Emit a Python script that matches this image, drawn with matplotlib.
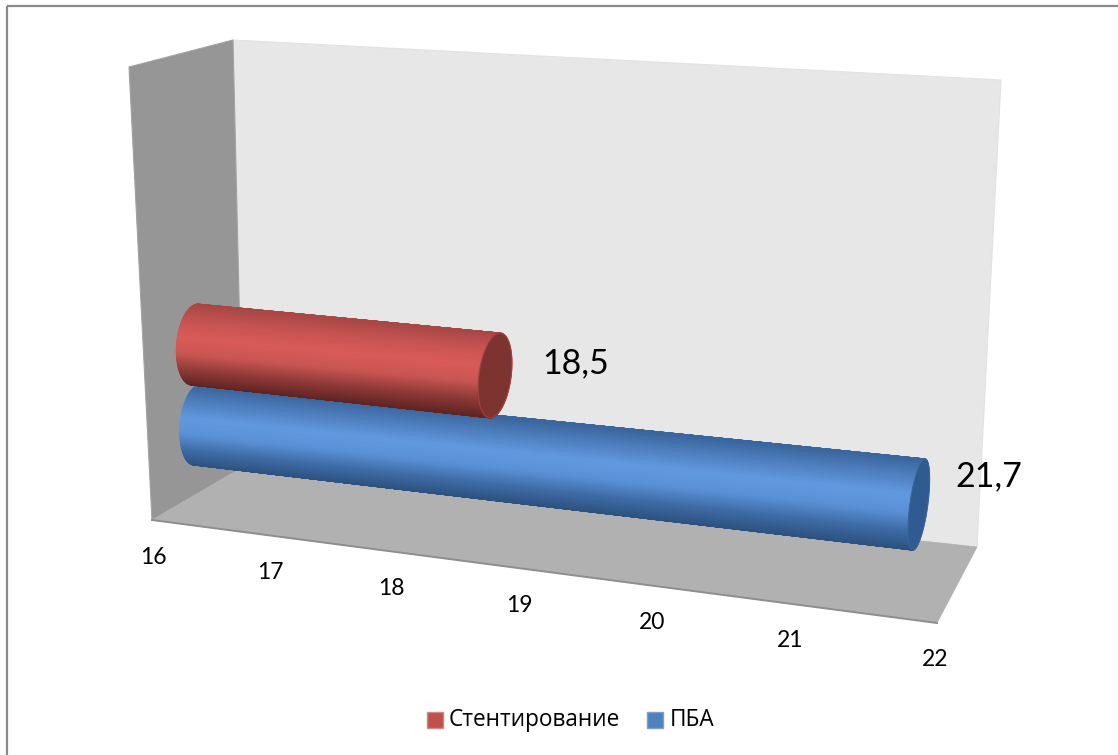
import numpy as np
import matplotlib
matplotlib.use("Agg")
import matplotlib.pyplot as plt
from matplotlib.collections import PolyCollection
from matplotlib.colors import LinearSegmentedColormap
from matplotlib.patches import Polygon, Rectangle

# Chart data
series_names = ["Стентирование", "ПБА"]
series_values = [18.5, 21.7]
value_labels = ["18,5", "21,7"]
axis_ticks = [16, 17, 18, 19, 20, 21, 22]

W, H = 1118, 755
AXIS_MIN, AXIS_MAX = axis_ticks[0], axis_ticks[-1]
FORESHORTENING = 1.137


def depth(value):
    """Perspective position (0..1) of a value along the receding value axis."""
    t = (np.asarray(value, dtype=float) - AXIS_MIN) / (AXIS_MAX - AXIS_MIN)
    return t / (t + FORESHORTENING * (1 - t))


def lerp(a, b, s):
    return np.asarray(a, dtype=float) + (np.asarray(b, dtype=float) - np.asarray(a, dtype=float)) * s


fig = plt.figure(figsize=(W / 100, H / 100), dpi=100, facecolor="white")
ax = fig.add_axes([0, 0, 1, 1])
ax.set_xlim(0, W)
ax.set_ylim(H, 0)
ax.axis("off")

# Chart frame: only the top and left sides fall inside the canvas
ax.plot([6.5, W], [6, 6], color="#8a8a8a", lw=1.6, zorder=0, solid_capstyle="butt")
ax.plot([6.5, 6.5], [6, H], color="#8a8a8a", lw=1.6, zorder=0, solid_capstyle="butt")

# Box walls and floor
ax.add_patch(Polygon([(233, 40), (1001, 80), (977, 547), (243, 467)], fc="#e7e7e7", ec="#e2e2e2", lw=0.8, zorder=1))
ax.add_patch(Polygon([(129, 67), (233, 40), (243, 467), (152, 520)], fc="#969696", ec="#a2a2a2", lw=0.8, zorder=1))
ax.add_patch(Polygon([(152, 520), (243, 467), (977, 547), (937, 623)], fc="#b1b1b1", ec="#b1b1b1", lw=0.5, zorder=1))
ax.plot([152, 937], [520, 623], color="#8e8e8e", lw=1.4, zorder=2)

# Tube styling: centre line, half-axis of the end ellipse and shading per series
tube_geometry = [
    dict(c0=(195, 344.5), c1=(972.6, 424.9), major0=(3, -40.5), major1=(8, -45.7), minor0=18.5, minor1=12.5,
         stops=["#5e2422", "#8f3b39", "#c95653", "#d95b59", "#c75452", "#a84745"],
         cap="#7d3431", edge="#a5403d", z=6),
    dict(c0=(197, 425), c1=(962, 509.3), major0=(3, -40), major1=(6.2, -46), minor0=17, minor1=8.5,
         stops=["#2c517f", "#3f6ca6", "#5a91d6", "#6199e0", "#4f80bf", "#3a659e"],
         cap="#305b90", edge="#38659c", z=4),
]


def draw_tube(value, g):
    s = depth(value)
    c_start, c_end = np.array(g["c0"], float), lerp(g["c0"], g["c1"], s)
    m_start, m_end = np.array(g["major0"], float), lerp(g["major0"], g["major1"], s)
    r_start, r_end = g["minor0"], lerp(g["minor0"], g["minor1"], s)

    cmap = LinearSegmentedColormap.from_list("tube", g["stops"])
    # Shade the curved surface as thin strips between the two end ellipses
    vs = np.sin(np.linspace(-np.pi / 2, np.pi / 2, 161))
    strips, shades = [], []
    for v0, v1 in zip(vs[:-1], vs[1:]):
        quad = []
        for v in (v0, v1):
            quad.append(c_start + v * m_start + (-r_start * np.sqrt(max(0.0, 1 - v * v)), 0))
        for v in (v1, v0):
            quad.append(c_end + v * m_end + (r_end * np.sqrt(max(0.0, 1 - v * v)), 0))
        strips.append(quad)
        shades.append(cmap((0.5 * (v0 + v1) + 1) / 2))
    ax.add_collection(PolyCollection(strips, facecolors=shades, edgecolors=shades, linewidths=0.6, zorder=g["z"]))

    # Flat end cap
    th = np.linspace(0, 2 * np.pi, 120)
    cap = c_end + np.outer(np.sin(th), m_end) + np.outer(np.cos(th), (r_end, 0))
    ax.add_patch(Polygon(cap, fc=g["cap"], ec=g["edge"], lw=0.8, zorder=g["z"] + 0.5))


for value, geom in zip(series_values, tube_geometry):
    draw_tube(value, geom)

# Value labels beside the tube ends
label_font = ["Lato", "Open Sans"]
for (value, text, g, dx, dy) in zip(series_values, value_labels, tube_geometry, (81, 70), (-12, -28)):
    s = depth(value)
    c = lerp(g["c0"], g["c1"], s)
    ax.text(c[0] + dx, c[1] + dy, text, fontsize=24.5, family=label_font, ha="center", va="center", color="black", zorder=8)

# Value axis labels, set below the front edge of the floor
x_left, x_right = 153, 935
y_left, y_right = 557, 660
for tick in axis_ticks:
    s = depth(tick)
    ax.text(x_left + (x_right - x_left) * s, y_left + (y_right - y_left) * s, str(tick),
            fontsize=16.5, family=label_font, ha="center", va="center", color="black", zorder=8)

# Legend
legend_font = ["Open Sans"]
for name, key_x, text_x, fc, ec in zip(series_names, (427, 647), (449, 670),
                                       ("#c0504d", "#4f81bd"), ("#c98a88", "#7f9fc6")):
    ax.add_patch(Rectangle((key_x, 712), 15.5, 15.5, fc=fc, ec=ec, lw=1, zorder=8))
    ax.text(text_x, 720, name, fontsize=16.3, family=legend_font, ha="left", va="center", color="black", zorder=8)

fig.savefig("out.png", dpi=100)
